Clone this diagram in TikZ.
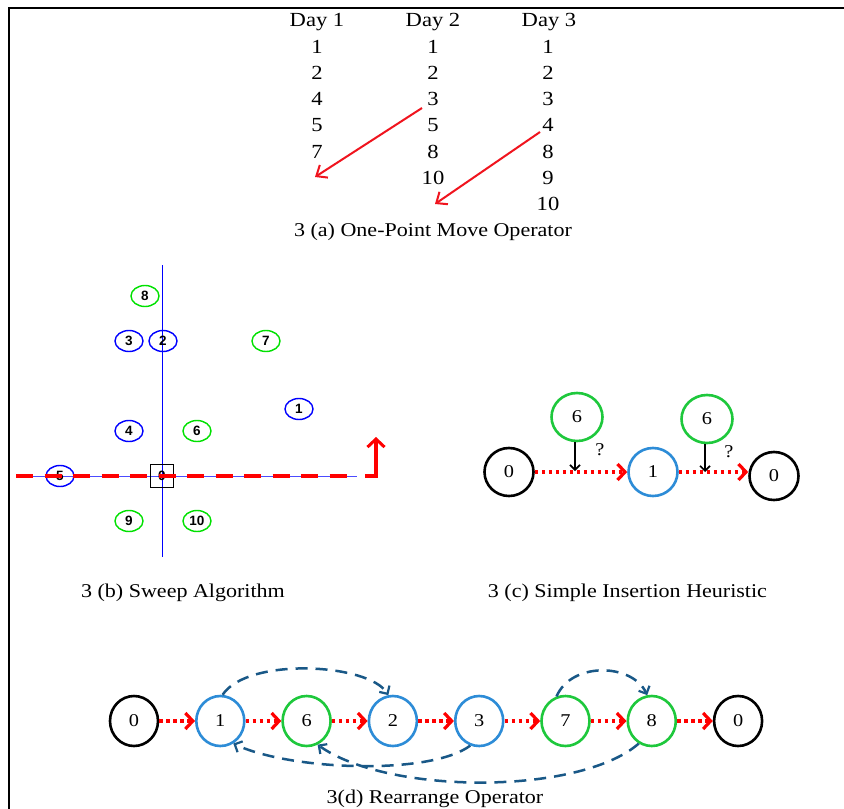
\documentclass[tikz,border=0pt]{standalone}
\usepackage{fontspec}
\setmainfont{Liberation Serif}[FakeStretch=1.13]
\newfontfamily\labelsans{Liberation Sans}
\usetikzlibrary{arrows.meta,shapes.geometric}

\definecolor{sweepblue}{RGB}{0,0,255}
\definecolor{sweepgreen}{RGB}{0,225,0}
\definecolor{custblue}{RGB}{45,140,215}
\definecolor{custgreen}{RGB}{30,200,60}
\definecolor{linkblue}{RGB}{25,88,135}
\definecolor{movered}{RGB}{240,20,30}

\tikzset{
  tabtext/.style={anchor=base, inner sep=0pt, font=\fontsize{20}{24}\selectfont},
  captext/.style={anchor=base, inner sep=0pt, font=\fontsize{19.5}{23}\selectfont},
  movearrow/.style={draw=movered, line width=2pt, -{Straight Barb[length=9pt,width=15pt]}},
  sweepnode/.style={ellipse, draw, line width=1.4pt, minimum width=28pt, minimum height=21pt,
    inner sep=0pt, font=\labelsans\bfseries\fontsize{13.5}{15}\selectfont},
  sblue/.style={sweepnode, draw=sweepblue},
  sgreen/.style={sweepnode, draw=sweepgreen},
  custnode/.style={ellipse, draw, line width=2.6pt, minimum width=49pt, minimum height=48pt,
    inner sep=0pt, font=\fontsize{18}{20}\selectfont},
  routenode/.style={custnode, minimum width=48pt, minimum height=50pt},
  depot/.style={draw=black},
  cblue/.style={draw=custblue},
  cgreen/.style={draw=custgreen},
  reddot/.style={draw=red, line width=3.5pt, dash pattern=on 3.5pt off 3.5pt,
    -{Straight Barb[length=7.5pt,width=16pt,line width=3.2pt]}},
  insertarrow/.style={draw=black, line width=1.8pt, -{Straight Barb[length=5pt,width=10pt,line width=1.6pt]}},
  relink/.style={draw=linkblue, line width=2.5pt, dash pattern=on 12pt off 8pt,
    -{Straight Barb[length=6pt,width=12pt,line width=2.2pt]}},
}

\begin{document}
\begin{tikzpicture}[x=1pt,y=-1pt]
\useasboundingbox (0,0) rectangle (844,809);
\fill[white] (0,0) rectangle (844,809);

% frame
\draw[line width=2pt] (9,809) -- (9,8) -- (844,8);

% ---------- 3(a) one-point move ----------
\node[tabtext] (h1) at (317,26) {Day 1};
\node[tabtext] (h2) at (433,26) {Day 2};
\node[tabtext] (h3) at (549,26) {Day 3};
\foreach \v [count=\i] in {1,2,4,5,7}
  \node[tabtext] (da\i) at (317,{53+26.3*(\i-1)}) {\v};
\foreach \v [count=\i] in {1,2,3,5,8,10}
  \node[tabtext] (db\i) at (433,{53+26.3*(\i-1)}) {\v};
\foreach \v [count=\i] in {1,2,3,4,8,9,10}
  \node[tabtext] (dc\i) at (548,{53+26.3*(\i-1)}) {\v};
\coordinate (ma1) at (422,108);
\coordinate (mb1) at (315,177);
\coordinate (ma2) at (540,132);
\coordinate (mb2) at (435,204);
\draw[movearrow] (ma1) -- (mb1);
\draw[movearrow] (ma2) -- (mb2);
\node[captext] (capa) at (433,236) {3 (a) One-Point Move Operator};

% ---------- 3(b) sweep ----------
\coordinate (vtop) at (162.5,265);
\coordinate (vbot) at (162.5,557);
\coordinate (hleft) at (16,476);
\coordinate (hright) at (357,476);
\draw[sweepblue, line width=0.9pt] (vtop) -- (vbot);
\draw[sweepblue!70, line width=0.8pt] (hleft) -- (hright);
\node[sgreen] (s8) at (145,296) {8};
\node[sblue] (s3) at (129,341) {3};
\node[sblue] (s2) at (163,341) {2};
\node[sgreen] (s7) at (266,341) {7};
\node[sblue] (s1) at (299,409) {1};
\node[sblue] (s4) at (129,431) {4};
\node[sgreen] (s6) at (197,431) {6};
\node[sblue] (s5) at (60,476) {5};
\node[draw, line width=1.5pt, minimum size=23pt, inner sep=0pt,
      font=\labelsans\bfseries\fontsize{13.5}{15}\selectfont] (s0) at (162,476) {0};
\node[sgreen] (s9) at (129,521) {9};
\node[sgreen] (s10) at (197,521) {10};
\coordinate (rayend) at (357,476);
\coordinate (turn) at (376,476);
\coordinate (uptip) at (376,437);
\draw[red, line width=3.5pt, dash pattern=on 17pt off 11.5pt] (hleft) -- (rayend);
\draw[red, line width=3.5pt, -{Straight Barb[length=8pt,width=17pt,line width=3pt]}]
  (365,476) -- (turn) -- (uptip);
\node[captext] (capb) at (183,597) {3 (b) Sweep Algorithm};

% ---------- 3(c) simple insertion ----------
\node[custnode, depot] (c0a) at (509,472) {0};
\node[custnode, cblue] (c1) at (653,472) {1};
\node[custnode, depot] (c0b) at (774,476) {0};
\node[custnode, cgreen, minimum width=51pt] (c6a) at (577,417) {6};
\node[custnode, cgreen, minimum width=51pt] (c6b) at (707,419) {6};
\draw[reddot] (c0a.east) -- (c1.west);
\draw[reddot] (c1.east) -- (c1.east -| c0b.west);
\coordinate (ia) at (575,471);
\coordinate (ib) at (705,472);
\draw[insertarrow] (c6a.south -| ia) -- (ia);
\draw[insertarrow] (c6b.south -| ib) -- (ib);
\node[font=\fontsize{18}{20}\selectfont, inner sep=0pt] (qa) at (600,450) {?};
\node[font=\fontsize{18}{20}\selectfont, inner sep=0pt] (qb) at (729,452) {?};
\node[captext] (capc) at (627.5,597) {3 (c) Simple Insertion Heuristic};

% ---------- 3(d) rearrange ----------
\node[routenode, depot] (r0a) at (134,721) {0};
\node[routenode, cblue]  (r1) at (220.3,721) {1};
\node[routenode, cgreen] (r6) at (306.6,721) {6};
\node[routenode, cblue]  (r2) at (392.9,721) {2};
\node[routenode, cblue]  (r3) at (479.2,721) {3};
\node[routenode, cgreen] (r7) at (565.5,721) {7};
\node[routenode, cgreen] (r8) at (651.8,721) {8};
\node[routenode, depot] (r0b) at (738.1,721) {0};
\foreach \a/\b in {r0a/r1, r1/r6, r6/r2, r2/r3, r3/r7, r7/r8, r8/r0b}
  \draw[reddot] (\a.east) -- (\b.west);
\draw[relink] (r1.85) .. controls +(25,-38) and +(-20,-32) .. (r2.100);
\draw[relink] (r7.110) .. controls +(15,-35) and +(-15,-32) .. (r8.100);
\draw[relink] (r3.250) .. controls +(-40,30) and +(57,27) .. (r1.300);
\draw[relink] (r8.240) .. controls +(-60,52) and +(70,50) .. (r6.295);
\node[captext] (capd) at (435,803.5) {3(d) Rearrange Operator};
\end{tikzpicture}
\end{document}
